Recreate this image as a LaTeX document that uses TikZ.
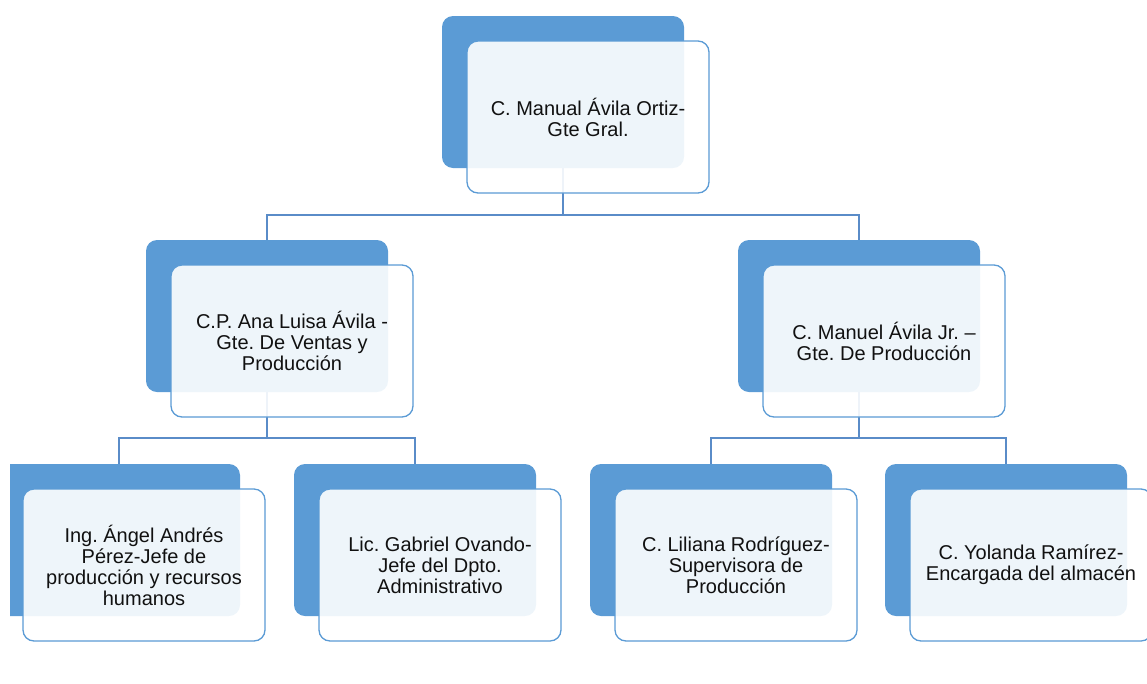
\documentclass[tikz,border=0pt]{standalone}
\usepackage{fontspec}
\setmainfont{Liberation Sans}
\usetikzlibrary{shadows,backgrounds}
\definecolor{boxblue}{HTML}{5B9BD5}
\definecolor{linkblue}{HTML}{5A8CC8}
\definecolor{txtgray}{HTML}{111111}
\frenchspacing

\begin{document}
\begin{tikzpicture}[x=1pt,y=-1pt,semithick,
                    font=\fontsize{20}{21}\selectfont]
  \tikzstyle{person}=[rectangle,rounded corners=11pt,draw=boxblue,line width=1.3pt,
                      fill=white,fill opacity=0.9,text opacity=1,text=txtgray,
                      minimum width=242pt,minimum height=152pt,inner sep=0pt,align=center,
                      general shadow={fill=boxblue,fill opacity=1,
                                      shadow xshift=-25pt,shadow yshift=25pt}]
  \tikzstyle{link}=[draw=linkblue,line width=1.9pt]

  \useasboundingbox (0,0) rectangle (1147,683);
  \clip (10,0) rectangle (1147,683);

  \node[person] (boss)    at (588,117)  {C. Manual Ávila Ortiz-\\Gte Gral.};
  \node[person] (ana)     at (292,341)  {C.P. Ana Luisa Ávila -\\Gte. De Ventas y\\Producción};
  \node[person] (manuel)  at (884,341)  {C. Manuel Ávila Jr. –\\Gte. De Producción};
  \node[person] (angel)   at (144,565)  {Ing. Ángel Andrés\\Pérez-Jefe de\\producción y recursos\\humanos};
  \node[person] (gabriel) at (440,565)  {Lic. Gabriel Ovando-\\Jefe del Dpto.\\Administrativo};
  \node[person] (liliana) at (736,565)  {C. Liliana Rodríguez-\\Supervisora de\\Producción};
  \node[person] (yolanda) at (1031,565) {C. Yolanda Ramírez-\\Encargada del almacén};

  % centres of the blue back boxes
  \foreach \n in {boss,ana,manuel,angel,gabriel,liliana,yolanda}
    \coordinate (\n-b) at ([xshift=-25pt]\n.center);
  \coordinate (bus1) at ([yshift=-21pt]boss.south);
  \coordinate (bus2) at ([yshift=-20pt]ana.south);
  \coordinate (bus3) at ([yshift=-20pt]manuel.south);

  \begin{pgfonlayer}{background}
    \draw[link] (boss-b) -- (boss-b |- bus1) -| (ana-b)
                (boss-b |- bus1) -| (manuel-b);
    \draw[link] (ana-b) -- (ana-b |- bus2) -| (angel-b)
                (ana-b |- bus2) -| (gabriel-b);
    \draw[link] (manuel-b) -- (manuel-b |- bus3) -| (liliana-b)
                (manuel-b |- bus3) -| (yolanda-b);
  \end{pgfonlayer}
\end{tikzpicture}
\end{document}
